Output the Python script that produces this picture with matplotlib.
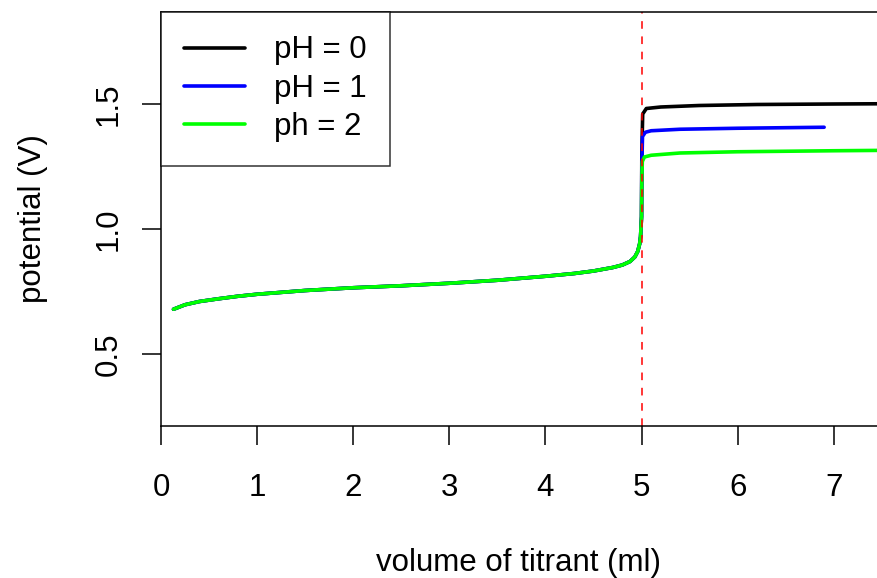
import numpy as np
import matplotlib.pyplot as plt

plt.rcParams['font.family'] = ['Liberation Sans', 'DejaVu Sans']

# shared part before the equivalence point
v_pre = [0.13, 0.25, 0.4, 0.6, 0.8, 1.0, 1.5, 2.0, 2.5, 3.0, 3.5, 4.0, 4.3,
         4.5, 4.7, 4.8, 4.88, 4.93, 4.96, 4.98, 4.99, 5.0]
e_pre = [0.679, 0.697, 0.710, 0.721, 0.731, 0.739, 0.754, 0.765, 0.773, 0.783,
         0.795, 0.811, 0.822, 0.832, 0.846, 0.856, 0.870, 0.888, 0.910, 0.94,
         0.97, 1.05]

# after the equivalence point
v_ph0 = [5.003, 5.012, 5.05, 5.2, 5.6, 6.2, 7.0, 8.0]
e_ph0 = [1.30, 1.46, 1.482, 1.488, 1.494, 1.498, 1.500, 1.502]
v_ph1 = [5.003, 5.01, 5.04, 5.1, 5.4, 6.0, 6.9]
e_ph1 = [1.25, 1.37, 1.387, 1.393, 1.399, 1.403, 1.407]
v_ph2 = [5.003, 5.008, 5.03, 5.1, 5.4, 6.0, 7.0, 8.0]
e_ph2 = [1.20, 1.27, 1.288, 1.295, 1.304, 1.309, 1.313, 1.316]

labels = ["pH = 0", "pH = 1", "ph = 2"]
colors = ["black", "blue", "#00ff00"]
v_eq = 5

fig = plt.figure(figsize=(8.77, 5.78), dpi=100)
ax = fig.add_axes([161/877, 152/578, 1 - 161/877, 414/578])

series = [(v_ph0, e_ph0), (v_ph1, e_ph1), (v_ph2, e_ph2)]
for (v, e), lab, c in zip(series, labels, colors):
    ax.plot(v_pre + v, e_pre + e, color=c, lw=2.6, label=lab,
            solid_capstyle='round', solid_joinstyle='round')

ax.axvline(v_eq, color='red', lw=1.1, ls=(0, (5, 5)))

ax.set_xlim(0, 7.45)
ax.set_ylim(0.212, 1.868)
ax.set_xticks(range(0, 8))
ax.set_yticks([0.5, 1.0, 1.5])
ax.set_yticklabels(['0.5', '1.0', '1.5'], rotation=90, va='center')
ax.spines['right'].set_visible(False)
for s in ['left', 'bottom', 'top']:
    ax.spines[s].set_linewidth(1.1)
ax.tick_params(length=14, width=1.1, labelsize=22.5)
ax.tick_params(axis='x', pad=20)
ax.tick_params(axis='y', pad=13)

ax.set_xlabel('volume of titrant (ml)', fontsize=22.5, labelpad=32)
ax.set_ylabel('potential (V)', fontsize=22.5, labelpad=33)

leg = ax.legend(loc='upper left', bbox_to_anchor=(0, 1), borderaxespad=0,
                fontsize=22.5, fancybox=False, handlelength=1.95,
                handletextpad=0.9, labelspacing=0.27, borderpad=0.75)
leg.get_frame().set_edgecolor('black')
leg.get_frame().set_linewidth(1.1)

plt.savefig('out.png', dpi=100)
